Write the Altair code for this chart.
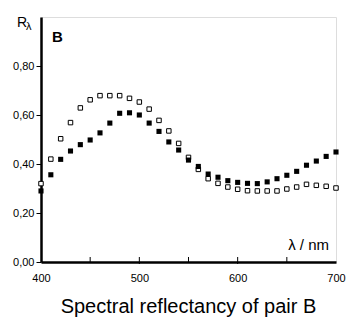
import altair as alt
import pandas as pd

wavelength = list(range(400, 701, 10))
open_vals = [0.32, 0.42, 0.503, 0.569, 0.629, 0.662, 0.679, 0.679, 0.679, 0.668, 0.653,
             0.624, 0.578, 0.535, 0.484, 0.427, 0.378, 0.34, 0.321, 0.306, 0.297,
             0.291, 0.29, 0.29, 0.29, 0.298, 0.306, 0.317, 0.313, 0.309, 0.302]
filled_vals = [0.29, 0.356, 0.419, 0.453, 0.479, 0.498, 0.527, 0.567, 0.607, 0.609, 0.6,
               0.567, 0.533, 0.49, 0.457, 0.416, 0.39, 0.359, 0.346, 0.332, 0.325,
               0.321, 0.32, 0.327, 0.34, 0.354, 0.37, 0.395, 0.412, 0.431, 0.449]
x_labels = [400, 500, 600, 700]
y_ticks = [0.0, 0.1, 0.2, 0.3, 0.4, 0.5, 0.6, 0.7, 0.8, 0.9]
major_x_ticks = [500, 600]
minor_x_ticks = [450, 550, 650]

FONT = "Liberation Sans"
W, H = 295, 245

df = pd.DataFrame({"wl": wavelength, "open": open_vals, "filled": filled_vals})

xs = alt.Scale(domain=[400, 700], nice=False)
ys = alt.Scale(domain=[0, 1.0], nice=False)

base = alt.Chart(df)

open_pts = base.mark_square(size=20, filled=True, fill="white", stroke="black",
                            strokeWidth=1, opacity=1).encode(
    x=alt.X("wl:Q", scale=xs,
            axis=alt.Axis(values=x_labels, format="d", ticks=False, tickSize=0,
                          labelPadding=10, labelFontSize=11, labelFont=FONT,
                          labelColor="black", domainColor="black", domainWidth=2.5,
                          grid=False, title=None, labelFlush=False)),
    y=alt.Y("open:Q", scale=ys,
            axis=alt.Axis(values=y_ticks, tickSize=5, tickColor="black", tickWidth=1,
                          labelPadding=2, labelFontSize=11, labelFont=FONT,
                          labelColor="black", domainColor="black", domainWidth=2.5,
                          grid=False, title=None, labelFlush=False,
                          labelExpr="round(datum.value*10) % 2 == 0 ? replace(format(datum.value, '.2f'), '.', ',') : ''")),
)

filled_pts = base.mark_square(size=26, filled=True, color="black", opacity=1).encode(
    x=alt.X("wl:Q", scale=xs),
    y=alt.Y("filled:Q", scale=ys),
)

major_ticks = alt.Chart(pd.DataFrame({"t": major_x_ticks})).mark_rule(
    color="black", strokeWidth=1).encode(
    x=alt.X("t:Q", scale=xs), y=alt.value(H - 5), y2=alt.value(H + 2))
minor_ticks = alt.Chart(pd.DataFrame({"t": minor_x_ticks})).mark_rule(
    color="black", strokeWidth=1).encode(
    x=alt.X("t:Q", scale=xs), y=alt.value(H - 5), y2=alt.value(H))


def label(txt, x, y, size, weight="normal", align="left"):
    return alt.Chart(pd.DataFrame({"t": [txt]})).mark_text(
        font=FONT, fontSize=size, fontWeight=weight, align=align,
        baseline="alphabetic", color="black").encode(
        x=alt.value(x), y=alt.value(y), text="t:N")


r_lbl = label("R", -24, 10, 14)
lam_lbl = label("λ", -15, 13, 11)
b_lbl = label("B", 11, 25, 15, weight="bold")
nm_lbl = label("λ / nm", 288, 233, 15, align="right")

chart = alt.layer(open_pts, filled_pts, major_ticks, minor_ticks,
                  r_lbl, lam_lbl, b_lbl, nm_lbl).properties(
    width=W, height=H,
    autosize=alt.AutoSizeParams(type="none"),
    padding={"left": 41, "top": 17, "right": 14, "bottom": 64},
    title=alt.TitleParams("Spectral reflectancy of pair B", orient="bottom",
                          font=FONT, fontSize=20, fontWeight="normal",
                          color="black", offset=14, anchor="middle"),
).configure_view(stroke="black", strokeWidth=1.5).configure(background="white")

chart.save("out.html", embed_options={"renderer": "svg", "actions": False})
